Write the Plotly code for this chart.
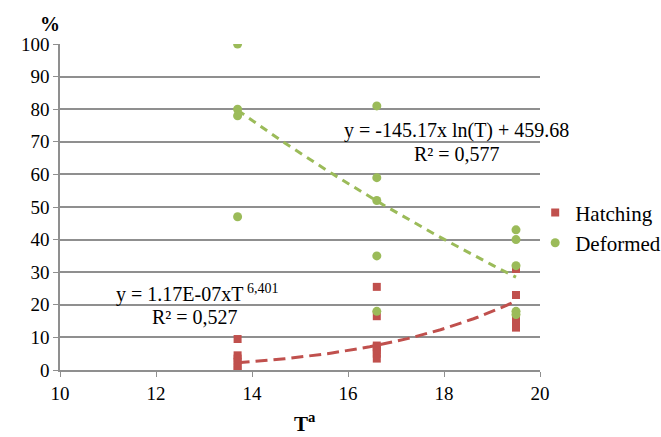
import numpy as np
import plotly.graph_objects as go

# Data
hatch_T = [13.7, 13.7, 13.7, 13.7, 13.7, 13.7,
           16.6, 16.6, 16.6, 16.6, 16.6, 16.6, 16.6,
           19.5, 19.5, 19.5, 19.5, 19.5, 19.5]
hatch_y = [9.5, 4.5, 3.5, 2.5, 1.0, 0.0,
           25.5, 16.5, 7.5, 7.0, 6.0, 5.0, 3.5,
           31.0, 23.0, 16.0, 15.0, 14.0, 13.0]

deform_T = [13.7, 13.7, 13.7, 13.7,
            16.6, 16.6, 16.6, 16.6, 16.6,
            19.5, 19.5, 19.5, 19.5, 19.5]
deform_y = [100, 80, 78, 47,
            81, 59, 52, 35, 18,
            43, 40, 32, 18, 17]

# Trend-line coefficients (as printed on the chart)
log_a, log_b = -145.17, 459.68
pow_a, pow_b = 1.17e-07, 6.401

x_ticks = [10, 12, 14, 16, 18, 20]
y_ticks = list(range(0, 101, 10))

RED = "#C0504D"
GREEN = "#9BBB59"
GRID = "#8F8F8F"
FONT = "Times New Roman, Liberation Serif, serif"

tt = np.linspace(min(deform_T), max(deform_T), 60)

fig = go.Figure()
fig.add_trace(go.Scatter(x=tt, y=pow_a * tt ** pow_b, mode="lines",
                         line=dict(color=RED, width=3, dash="12px,6px"),
                         showlegend=False, hoverinfo="skip"))
fig.add_trace(go.Scatter(x=tt, y=log_a * np.log(tt) + log_b, mode="lines",
                         line=dict(color=GREEN, width=3, dash="8px,6px"),
                         showlegend=False, hoverinfo="skip"))
fig.add_trace(go.Scatter(x=hatch_T, y=hatch_y, mode="markers", name="Hatching",
                         marker=dict(symbol="square", size=8, color=RED)))
fig.add_trace(go.Scatter(x=deform_T, y=deform_y, mode="markers", name="Deformed",
                         marker=dict(symbol="circle", size=9, color=GREEN)))

fig.update_layout(
    width=661, height=437,
    margin=dict(l=60, r=121, t=44, b=67, autoexpand=False),
    paper_bgcolor="white", plot_bgcolor="white",
    font=dict(family=FONT, size=19, color="black"),
    legend=dict(x=0.99, y=0.545, xanchor="left", yanchor="top",
                font=dict(family=FONT, size=21), itemwidth=30,
                bgcolor="rgba(0,0,0,0)"),
    xaxis=dict(range=[10, 20], tickvals=x_ticks, showgrid=False,
               showline=True, linecolor=GRID, linewidth=1.5,
               ticks="outside", ticklen=5, tickcolor=GRID,
               zeroline=False, tickfont=dict(family=FONT, size=19)),
    yaxis=dict(range=[0, 100], tickvals=y_ticks, showgrid=True,
               gridcolor=GRID, gridwidth=1.5,
               showline=True, linecolor=GRID, linewidth=1.5,
               ticks="outside", ticklen=5, tickcolor=GRID,
               zeroline=False, tickfont=dict(family=FONT, size=19)),
    annotations=[
        dict(text="<b>%</b>", xref="paper", yref="paper", x=-0.021, y=1.06,
             showarrow=False, font=dict(family=FONT, size=20),
             xanchor="center", yanchor="middle"),
        dict(text="<b>T<sup>a</sup></b>", xref="paper", yref="paper", x=0.51, y=-0.162,
             showarrow=False, font=dict(family=FONT, size=21),
             xanchor="center", yanchor="middle"),
        dict(text="y = -145.17x ln(T) + 459.68", xref="x", yref="y", x=18.25, y=73.5,
             showarrow=False, font=dict(family=FONT, size=20), xanchor="center"),
        dict(text="R² = 0,577", xref="x", yref="y", x=18.27, y=66.2,
             showarrow=False, font=dict(family=FONT, size=20), xanchor="center"),
        dict(text="y = 1.17E-07xT<sup> 6,401</sup>", xref="x", yref="y", x=11.12, y=23.6,
             showarrow=False, font=dict(family=FONT, size=20), xanchor="left"),
        dict(text="R² = 0,527", xref="x", yref="y", x=12.81, y=16.2,
             showarrow=False, font=dict(family=FONT, size=20), xanchor="center"),
    ],
)

fig.write_html("out.html", config={"displayModeBar": False},
               post_script="document.body.style.margin='0';")
